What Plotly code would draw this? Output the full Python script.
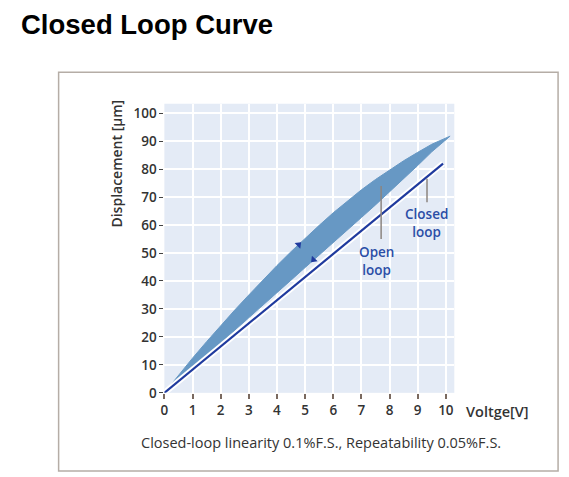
import plotly.graph_objects as go

# ---- data ----
volt_hyst = [0, 0.5, 1, 1.5, 2, 2.5, 3, 3.5, 4, 4.5, 5, 5.5, 6, 6.5, 7, 7.5, 8, 8.5, 9, 9.5, 10.15]
disp_upper = [0, 6.3, 12.4, 18.3, 24.0, 29.6, 35.0, 40.3, 45.5, 50.5, 55.3, 59.9, 64.4, 68.6, 72.6, 76.3, 79.8, 83.0, 86.0, 88.9, 91.8]
disp_lower = [0, 4.4, 8.8, 13.3, 17.8, 22.3, 26.8, 31.3, 35.8, 40.3, 44.8, 49.3, 53.8, 58.3, 62.7, 67.2, 71.8, 76.5, 81.3, 86.2, 91.8]
volt_closed = [0, 9.9]
disp_closed = [0, 82]
x_ticks = [0, 1, 2, 3, 4, 5, 6, 7, 8, 9, 10]
y_ticks = [0, 10, 20, 30, 40, 50, 60, 70, 80, 90, 100]
arrow_pts_v = [4.77, 5.3]
arrow_pts_d = [53.0, 47.6]
arrow_angles = [45, 225]

W, H = 569, 487
REF_H = 477
def px(x): return x / W
def py(y): return 1 - y / REF_H

fig = go.Figure()

# hysteresis band (open loop)
fig.add_trace(go.Scatter(
    x=volt_hyst + volt_hyst[::-1],
    y=disp_upper + disp_lower[::-1],
    fill="toself", fillcolor="#6798c4",
    line=dict(color="#6798c4", width=1),
    mode="lines", hoverinfo="skip", showlegend=False))

# closed loop line with white halo
fig.add_trace(go.Scatter(x=volt_closed, y=disp_closed, mode="lines",
                         line=dict(color="white", width=6), showlegend=False, hoverinfo="skip"))
fig.add_trace(go.Scatter(x=volt_closed, y=disp_closed, mode="lines",
                         line=dict(color="#1f3a9e", width=2.2), showlegend=False))

# direction arrows on band
fig.add_trace(go.Scatter(x=arrow_pts_v, y=arrow_pts_d, mode="markers",
                         marker=dict(symbol="triangle-up", size=7, color="#1f3a9e",
                                     angle=arrow_angles),
                         showlegend=False))

font_axis = dict(family="Open Sans", size=13.5, color="#333333", weight=600)

fig.update_layout(
    width=W, height=H,
    margin=dict(l=0, r=0, t=0, b=0),
    paper_bgcolor="white",
    plot_bgcolor="#e4ebf6",
    xaxis=dict(domain=[px(161.5), px(453.5)], range=[0, 10.3],
               tickvals=x_ticks, ticktext=[str(v) for v in x_ticks],
               showgrid=True, gridcolor="white", gridwidth=1.6,
               zeroline=False, showline=False,
               ticks="outside", ticklen=5, tickcolor="#7a6a60", tickwidth=1.5,
               tickfont=font_axis, fixedrange=True),
    yaxis=dict(domain=[py(392), py(103.5)], range=[0, 103.4],
               tickvals=y_ticks, ticktext=[str(v) for v in y_ticks],
               showgrid=True, gridcolor="white", gridwidth=1.6,
               zeroline=False, showline=False,
               ticks="outside", ticklen=4, tickcolor="#444444", tickwidth=1.2,
               tickfont=font_axis, fixedrange=True),
    font=dict(family="Open Sans"),
)

# frame box
fig.add_shape(type="rect", xref="paper", yref="paper",
              x0=px(55), x1=px(558), y0=py(470), y1=py(72),
              line=dict(color="#b5ada6", width=1.5), fillcolor="rgba(0,0,0,0)", layer="below")

# axis arrows
fig.add_annotation(x=10.62, y=0, ax=-0.33, ay=0, xref="x", yref="y", axref="x", ayref="y",
                   text="", showarrow=True, arrowhead=2, arrowsize=1.2, arrowwidth=1.6,
                   arrowcolor="#222222")
fig.add_annotation(x=0, y=105.6, ax=0, ay=-0.3, xref="x", yref="y", axref="x", ayref="y",
                   text="", showarrow=True, arrowhead=2, arrowsize=1.2, arrowwidth=1.6,
                   arrowcolor="#222222")

# label pointer lines
fig.add_shape(type="line", xref="x", yref="y", x0=7.7, x1=7.7, y0=55, y1=74,
              line=dict(color="#8c8580", width=1.5))
fig.add_shape(type="line", xref="x", yref="y", x0=9.33, x1=9.33, y0=68.2, y1=76.6,
              line=dict(color="#8c8580", width=1.5))

blue_text = dict(family="Open Sans", size=13.5, color="#2b4ea6", weight=600)
fig.add_annotation(xref="paper", yref="paper", x=px(375), y=py(260),
                   text="Open<br>loop", showarrow=False, font=blue_text,
                   align="center", xanchor="center", yanchor="middle")
fig.add_annotation(xref="paper", yref="paper", x=px(425), y=py(223),
                   text="Closed<br>loop", showarrow=False, font=blue_text,
                   align="center", xanchor="center", yanchor="middle")

# axis titles
fig.add_annotation(xref="paper", yref="paper", x=px(113), y=py(163),
                   text="Displacement [μm]", textangle=-90, showarrow=False,
                   font=dict(family="Open Sans", size=14, color="#333333", weight=600),
                   xanchor="center", yanchor="middle")
fig.add_annotation(xref="paper", yref="paper", x=px(463), y=py(411),
                   text="Voltge[V]", showarrow=False,
                   font=dict(family="Open Sans", size=14.5, color="#333333", weight=600),
                   xanchor="left", yanchor="middle")

# caption
fig.add_annotation(xref="paper", yref="paper", x=px(319), y=py(442),
                   text="Closed-loop linearity 0.1%F.S., Repeatability 0.05%F.S.",
                   showarrow=False,
                   font=dict(family="Open Sans", size=14.5, color="#333333"),
                   xanchor="center", yanchor="middle")

# title
fig.add_annotation(xref="paper", yref="paper", x=px(15), y=py(24),
                   text="<b>Closed Loop Curve</b>", showarrow=False,
                   font=dict(family="Liberation Sans", size=27.5, color="black"),
                   xanchor="left", yanchor="middle")

fig.write_html(
    "out.html",
    config={"displayModeBar": False},
    post_script="document.body.style.margin='0px';",
)
